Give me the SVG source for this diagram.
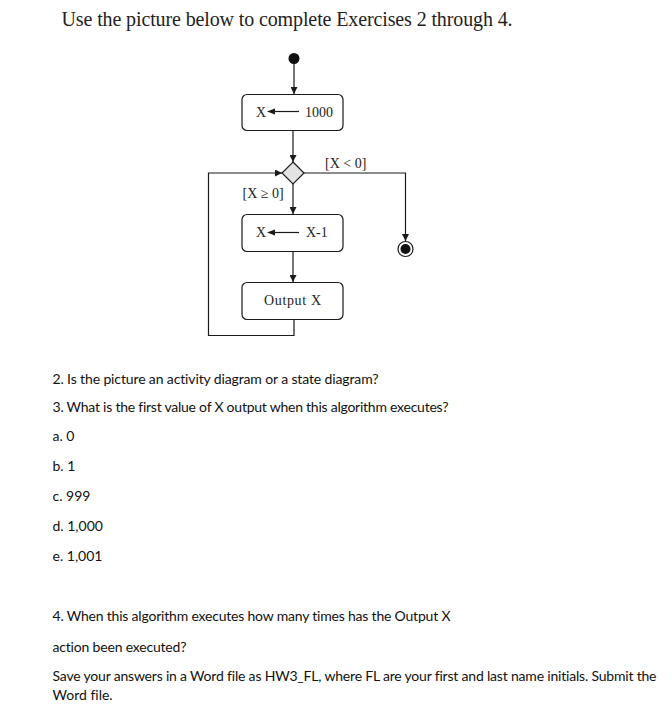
<svg xmlns="http://www.w3.org/2000/svg" width="672" height="726" viewBox="0 0 672 726">
<style>
.bg{fill:#ffffff}
.box{fill:#ffffff;stroke:#1a1a1a;stroke-width:1.2}
.dia{fill:#e3e3e3;stroke:#1a1a1a;stroke-width:1.2}
.ln{fill:none;stroke:#1a1a1a;stroke-width:1.2}
.ah{fill:#1a1a1a}
.dt{font-family:"Liberation Serif","Times New Roman",serif;font-size:14px;fill:#222}
.title{font-family:"Liberation Serif","Times New Roman",serif;font-size:20px;fill:#222}
.body{font-family:Lato,"Liberation Sans",Arial,sans-serif;font-size:14px;fill:#111;font-variant-ligatures:none}
</style>
<defs>
<marker id="arr" viewBox="0 0 10 10" refX="10" refY="5" markerWidth="7" markerHeight="7" markerUnits="userSpaceOnUse" orient="auto">
<path d="M0,0 L10,5 L0,10 z" fill="#1a1a1a"/>
</marker>
</defs>
<rect class="bg" x="0" y="0" width="672" height="726"/>

<text class="title" x="61.5" y="26" textLength="451" lengthAdjust="spacing">Use the picture below to complete Exercises 2 through 4.</text>

<g id="connectors">
<path class="ln" d="M294,63 L294,94" marker-end="url(#arr)"/>
<path class="ln" d="M293,131 L293,162" marker-end="url(#arr)"/>
<path class="ln" d="M293,184 L293,214" marker-end="url(#arr)"/>
<path class="ln" d="M293,252 L293,282" marker-end="url(#arr)"/>
<path class="ln" d="M304,173 L405.5,173 L405.5,241" marker-end="url(#arr)"/>
<path class="ln" d="M294,320 L294,335.5 L208.5,335.5 L208.5,173 L282,173" marker-end="url(#arr)"/>
<text class="dt" x="325" y="167.5">[X &lt; 0]</text>
<text class="dt" x="242.5" y="198">[X ≥ 0]</text>
</g>

<g id="start">
<circle cx="294" cy="58.5" r="5.5" fill="#111"/>
</g>

<g id="assign1000">
<rect class="box" x="242" y="94.5" width="101" height="36" rx="5"/>
<text class="dt" x="256" y="116.5">X</text>
<line class="ln" x1="273" y1="111.5" x2="299" y2="111.5"/>
<path class="ah" d="M267,111.5 L275,108.5 L275,114.5 z"/>
<text class="dt" x="305" y="116.5">1000</text>
</g>

<g id="decision">
<polygon class="dia" points="293,162 304,173 293,184 282,173"/>
</g>

<g id="decrement">
<rect class="box" x="242" y="214.5" width="101" height="37" rx="5"/>
<text class="dt" x="256" y="237">X</text>
<line class="ln" x1="273" y1="232.5" x2="299" y2="232.5"/>
<path class="ah" d="M267,232.5 L275,229.5 L275,235.5 z"/>
<text class="dt" x="306" y="237">X-1</text>
</g>

<g id="output">
<rect class="box" x="242" y="282.5" width="101" height="37" rx="5"/>
<text class="dt" x="292.5" y="305" text-anchor="middle" textLength="57" lengthAdjust="spacing">Output X</text>
</g>

<g id="final">
<circle cx="405.5" cy="249" r="7.5" fill="#fff" stroke="#1a1a1a" stroke-width="1.2"/>
<circle cx="405.5" cy="249" r="5" fill="#111"/>
</g>

<g id="questions">
<text class="body" x="52.5" y="383.5" textLength="326" lengthAdjust="spacing">2. Is the picture an activity diagram or a state diagram?</text>
<text class="body" x="52.5" y="412" textLength="396" lengthAdjust="spacing">3. What is the first value of X output when this algorithm executes?</text>
<text class="body" x="52.5" y="441">a. 0</text>
<text class="body" x="52.5" y="471">b. 1</text>
<text class="body" x="52.5" y="501">c. 999</text>
<text class="body" x="52.5" y="531">d. 1,000</text>
<text class="body" x="52.5" y="561">e. 1,001</text>
<text class="body" x="52.5" y="621" textLength="398" lengthAdjust="spacing">4. When this algorithm executes how many times has the Output X</text>
<text class="body" x="52.5" y="651.5" textLength="134" lengthAdjust="spacing">action been executed?</text>
<text class="body" x="52.5" y="681" textLength="604" lengthAdjust="spacing">Save your answers in a Word file as HW3_FL, where FL are your first and last name initials. Submit the</text>
<text class="body" x="52.5" y="700">Word file.</text>
</g>
</svg>
